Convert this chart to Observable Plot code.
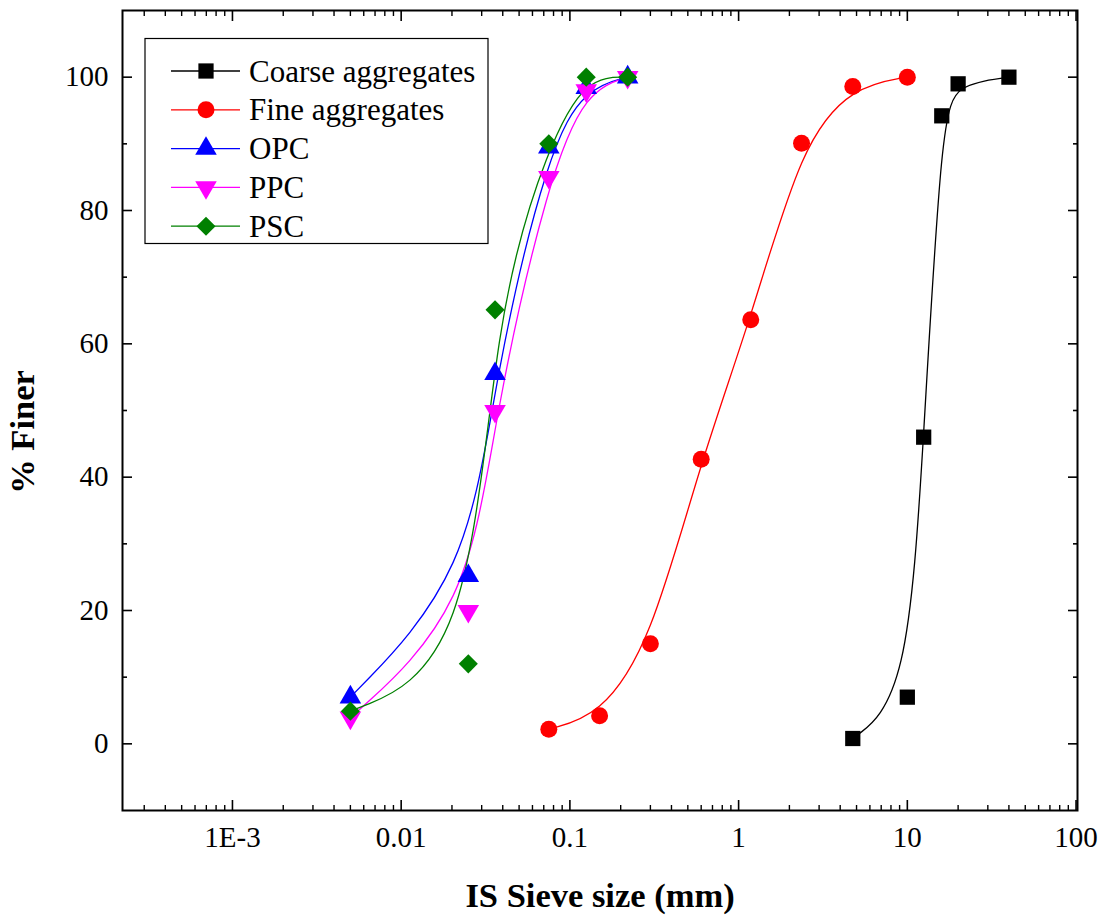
<!DOCTYPE html>
<html><head><meta charset="utf-8">
<script src="https://cdn.jsdelivr.net/npm/d3@7"></script>
<script src="https://cdn.jsdelivr.net/npm/@observablehq/plot@0.6"></script>
<style>
body{margin:0;background:#fff}
#chart svg{display:block}
#chart svg text{font-family:"Liberation Serif","Times New Roman",serif}
</style>
</head><body><div id="chart"></div>
<script>
// ---- data ----
const seriesNames = ["Coarse aggregates","Fine aggregates","OPC","PPC","PSC"];
const seriesColors = ["#000000","#ff0000","#0000ff","#ff00ff","#008000"];
const coarseSize  = [4.75, 10, 12.5, 16, 20, 40];
const coarseFiner = [0.8, 7, 46, 94.2, 99, 100];
const fineSize  = [0.075, 0.15, 0.3, 0.6, 1.18, 2.36, 4.75, 10];
const fineFiner = [2.2, 4.2, 15, 42.7, 63.6, 90.1, 98.6, 100];
const cementSize = [0.005, 0.025, 0.036, 0.075, 0.125, 0.22];
const opcFiner = [7, 25.2, 55.5, 89.5, 98.4, 100];
const ppcFiner = [3.9, 19.9, 49.9, 85, 98, 100];
const pscFiner = [4.9, 12, 65.1, 90, 100, 100];
const xMajorTicks = [0.001, 0.01, 0.1, 1, 10, 100];
const xTickLabels = ["1E-3", "0.01", "0.1", "1", "10", "100"];
const yMajorTicks = [0, 20, 40, 60, 80, 100];
const yMinorTicks = [10, 30, 50, 70, 90];
const xDomain = [2.23e-4, 102];
const yDomain = [-10, 110];
const xTitle = "IS Sieve size (mm)";
const yTitle = "% Finer";

const FONT = '"Liberation Serif","Times New Roman",serif';

const xMinorTicks = [];
for (let e = -4; e <= 1; e++) for (let m = 2; m <= 9; m++) {
  const v = m * Math.pow(10, e);
  if (v >= xDomain[0] && v <= xDomain[1]) xMinorTicks.push(v);
}

const symbolTriangleDown = {
  draw(ctx, size) {
    const y = -Math.sqrt(size / (Math.sqrt(3) * 3));
    ctx.moveTo(0, -y * 2);
    ctx.lineTo(-Math.sqrt(3) * y, y);
    ctx.lineTo(Math.sqrt(3) * y, y);
    ctx.closePath();
  }
};
const seriesSymbols = [d3.symbolSquare, d3.symbolCircle, d3.symbolTriangle, symbolTriangleDown, d3.symbolDiamond2];
const seriesR = [8.6, 8.5, 8, 8, 8.6];

const toRows = (sizes, finer) => sizes.map((s, i) => ({size: s, finer: finer[i]}));
const seriesData = [
  toRows(coarseSize, coarseFiner),
  toRows(fineSize, fineFiner),
  toRows(cementSize, opcFiner),
  toRows(cementSize, ppcFiner),
  toRows(cementSize, pscFiner)
];

const marks = [];
seriesData.forEach((data, i) => {
  marks.push(Plot.line(data, {x: "size", y: "finer", stroke: seriesColors[i], strokeWidth: 1.3, curve: "basis"}));
});
seriesData.forEach((data, i) => {
  marks.push(Plot.dot(data, {x: "size", y: "finer", fill: seriesColors[i], stroke: "none", symbol: seriesSymbols[i], r: seriesR[i]}));
});

const blank = () => "";
const fs = 29;
marks.push(
  // inward ticks, all four sides
  Plot.axisX(xMajorTicks, {anchor: "bottom", tickSize: -10, tickFormat: blank, strokeWidth: 1.6, label: null}),
  Plot.axisX(xMinorTicks, {anchor: "bottom", tickSize: -5, tickFormat: blank, strokeWidth: 1.4, label: null}),
  Plot.axisX(xMajorTicks, {anchor: "top", tickSize: -10, tickFormat: blank, strokeWidth: 1.6, label: null}),
  Plot.axisX(xMinorTicks, {anchor: "top", tickSize: -5, tickFormat: blank, strokeWidth: 1.4, label: null}),
  Plot.axisY(yMajorTicks, {anchor: "left", tickSize: -10, tickFormat: blank, strokeWidth: 1.6, label: null}),
  Plot.axisY(yMinorTicks, {anchor: "left", tickSize: -5, tickFormat: blank, strokeWidth: 1.6, label: null}),
  Plot.axisY(yMajorTicks, {anchor: "right", tickSize: -10, tickFormat: blank, strokeWidth: 1.6, label: null}),
  Plot.axisY(yMinorTicks, {anchor: "right", tickSize: -5, tickFormat: blank, strokeWidth: 1.6, label: null}),
  // tick labels
  Plot.axisX(xMajorTicks, {anchor: "bottom", tickSize: 0, tickPadding: 16, fontSize: fs, fontFamily: FONT, fontVariant: "normal", fill: "black",
    tickFormat: d => xTickLabels[xMajorTicks.indexOf(d)], label: null}),
  Plot.axisY(yMajorTicks, {anchor: "left", tickSize: 0, tickPadding: 14, fontSize: fs, fontFamily: FONT, fontVariant: "normal", fill: "black", label: null}),
  // titles
  Plot.text([xTitle], {frameAnchor: "bottom", textAnchor: "middle", lineAnchor: "bottom", dy: 96.5,
    fontSize: 34.5, fontWeight: "bold", fontFamily: FONT, fill: "black"}),
  Plot.text([yTitle], {frameAnchor: "left", textAnchor: "middle", lineAnchor: "bottom", dx: -89, dy: 21.5, rotate: -90,
    fontSize: 34.5, fontWeight: "bold", fontFamily: FONT, fill: "black"}),
  Plot.frame({stroke: "black", strokeWidth: 2})
);

const chart = Plot.plot({
  width: 1105,
  height: 915,
  marginLeft: 122,
  marginRight: 28,
  marginTop: 10,
  marginBottom: 105,
  x: {type: "log", domain: xDomain},
  y: {domain: yDomain},
  style: {fontFamily: FONT, color: "black", background: "white"},
  marks
});
document.getElementById("chart").appendChild(chart);

// legend (inside the plot area, top-left)
const svg = d3.select(chart);
const lg = svg.append("g").attr("class", "legend")
  .attr("text-anchor", "start").attr("font-family", FONT);
lg.append("rect").attr("x", 145).attr("y", 38.5).attr("width", 343).attr("height", 205)
  .attr("fill", "white").attr("stroke", "black").attr("stroke-width", 1.2);
seriesNames.forEach((name, i) => {
  const cy = 71 + i * 38.8;
  lg.append("line").attr("x1", 171).attr("x2", 240).attr("y1", cy).attr("y2", cy)
    .attr("stroke", seriesColors[i]).attr("stroke-width", 1.3);
  lg.append("path").attr("transform", `translate(206,${cy})`)
    .attr("d", d3.symbol(seriesSymbols[i], seriesR[i] * seriesR[i] * Math.PI)())
    .attr("fill", seriesColors[i]);
  lg.append("text").attr("x", 249).attr("y", cy + 10.5).attr("font-size", 31).attr("fill", "black")
    .attr("text-anchor", "start").text(name);
});
</script>
</body></html>
